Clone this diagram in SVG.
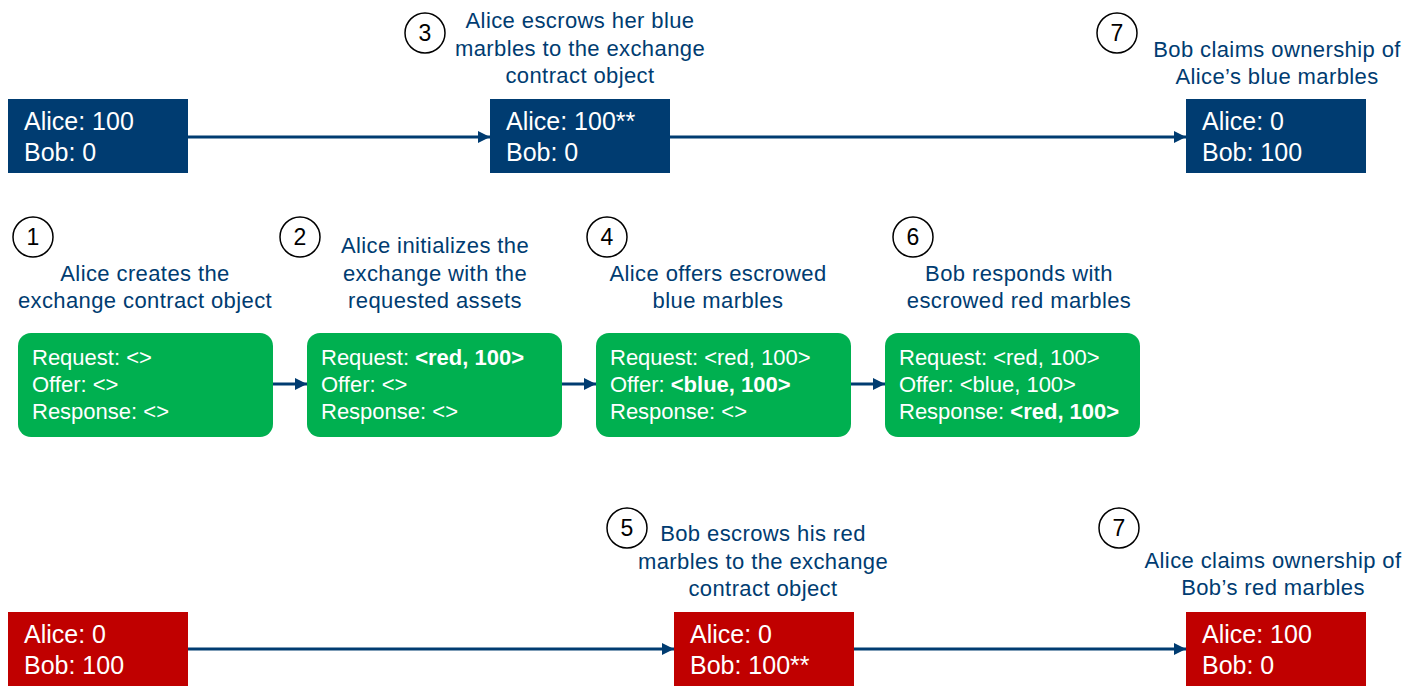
<svg xmlns="http://www.w3.org/2000/svg" width="1424" height="694" viewBox="0 0 1424 694">
<defs>
<marker id="ah" viewBox="0 0 10 10" refX="10" refY="5" markerWidth="4" markerHeight="4" orient="auto" markerUnits="strokeWidth">
<path d="M0,0 L10,5 L0,10 z" fill="#003C71"/>
</marker>
<style>
.blue{fill:#003C71}
.green{fill:#00B050}
.red{fill:#C00000}
.bt{font-family:"Liberation Sans",Arial,sans-serif;font-size:25px;fill:#fff}
.gt{font-family:"Liberation Sans",Arial,sans-serif;font-size:22px;fill:#fff}
.b{font-weight:bold}
.lab{font-family:"Liberation Sans",Arial,sans-serif;font-size:22px;letter-spacing:0.4px;fill:#003C71;text-anchor:middle}
.num{font-family:"Liberation Sans",Arial,sans-serif;font-size:23px;fill:#000;text-anchor:middle}
.circ{fill:#fff;stroke:#000;stroke-width:1.5}
.conn{stroke:#003C71;stroke-width:3;fill:none;marker-end:url(#ah)}
</style>
</defs>
<rect width="1424" height="694" fill="#fff"/>
<g id="connectors">
<line class="conn" x1="188" y1="137" x2="490" y2="137"/>
<line class="conn" x1="670" y1="137" x2="1186" y2="137"/>
<line class="conn" x1="273" y1="384" x2="307" y2="384"/>
<line class="conn" x1="562" y1="384" x2="596" y2="384"/>
<line class="conn" x1="851" y1="384" x2="885" y2="384"/>
<line class="conn" x1="188" y1="649" x2="674" y2="649"/>
<line class="conn" x1="854" y1="649" x2="1186" y2="649"/>
</g>
<g id="blue1"><rect class="blue" x="8" y="99" width="180" height="74"/><text class="bt" x="24" y="130">Alice: 100</text><text class="bt" x="24" y="161">Bob: 0</text></g>
<g id="blue2"><rect class="blue" x="490" y="99" width="180" height="74"/><text class="bt" x="506" y="130">Alice: 100**</text><text class="bt" x="506" y="161">Bob: 0</text></g>
<g id="blue3"><rect class="blue" x="1186" y="99" width="180" height="74"/><text class="bt" x="1202" y="130">Alice: 0</text><text class="bt" x="1202" y="161">Bob: 100</text></g>
<g id="green1"><rect class="green" x="18" y="333" width="255" height="104" rx="13"/><text class="gt" x="32" y="365">Request: &lt;&gt;</text><text class="gt" x="32" y="392">Offer: &lt;&gt;</text><text class="gt" x="32" y="419">Response: &lt;&gt;</text></g>
<g id="green2"><rect class="green" x="307" y="333" width="255" height="104" rx="13"/><text class="gt" x="321" y="365">Request: <tspan class="b">&lt;red, 100&gt;</tspan></text><text class="gt" x="321" y="392">Offer: &lt;&gt;</text><text class="gt" x="321" y="419">Response: &lt;&gt;</text></g>
<g id="green3"><rect class="green" x="596" y="333" width="255" height="104" rx="13"/><text class="gt" x="610" y="365">Request: &lt;red, 100&gt;</text><text class="gt" x="610" y="392">Offer: <tspan class="b">&lt;blue, 100&gt;</tspan></text><text class="gt" x="610" y="419">Response: &lt;&gt;</text></g>
<g id="green4"><rect class="green" x="885" y="333" width="255" height="104" rx="13"/><text class="gt" x="899" y="365">Request: &lt;red, 100&gt;</text><text class="gt" x="899" y="392">Offer: &lt;blue, 100&gt;</text><text class="gt" x="899" y="419">Response: <tspan class="b">&lt;red, 100&gt;</tspan></text></g>
<g id="red1"><rect class="red" x="8" y="612" width="180" height="74"/><text class="bt" x="24" y="643">Alice: 0</text><text class="bt" x="24" y="674">Bob: 100</text></g>
<g id="red2"><rect class="red" x="674" y="612" width="180" height="74"/><text class="bt" x="690" y="643">Alice: 0</text><text class="bt" x="690" y="674">Bob: 100**</text></g>
<g id="red3"><rect class="red" x="1186" y="612" width="180" height="74"/><text class="bt" x="1202" y="643">Alice: 100</text><text class="bt" x="1202" y="674">Bob: 0</text></g>
<g id="step3"><circle class="circ" cx="425" cy="33" r="20"/><text class="num" x="425" y="41">3</text><text class="lab" x="580" y="28">Alice escrows her blue</text><text class="lab" x="580" y="56">marbles to the exchange</text><text class="lab" x="580" y="83">contract object</text></g>
<g id="step7a"><circle class="circ" cx="1117" cy="33" r="20"/><text class="num" x="1117" y="41">7</text><text class="lab" x="1277" y="57">Bob claims ownership of</text><text class="lab" x="1277" y="84">Alice’s blue marbles</text></g>
<g id="step1"><circle class="circ" cx="33" cy="237" r="20"/><text class="num" x="33" y="245">1</text><text class="lab" x="145" y="281">Alice creates the</text><text class="lab" x="145" y="308">exchange contract object</text></g>
<g id="step2"><circle class="circ" cx="300" cy="237" r="20"/><text class="num" x="300" y="245">2</text><text class="lab" x="435" y="253">Alice initializes the</text><text class="lab" x="435" y="281">exchange with the</text><text class="lab" x="435" y="308">requested assets</text></g>
<g id="step4"><circle class="circ" cx="607" cy="237" r="20"/><text class="num" x="607" y="245">4</text><text class="lab" x="718" y="281">Alice offers escrowed</text><text class="lab" x="718" y="308">blue marbles</text></g>
<g id="step6"><circle class="circ" cx="913" cy="237" r="20"/><text class="num" x="913" y="245">6</text><text class="lab" x="1019" y="281">Bob responds with</text><text class="lab" x="1019" y="308">escrowed red marbles</text></g>
<g id="step5"><circle class="circ" cx="627" cy="528" r="20"/><text class="num" x="627" y="536">5</text><text class="lab" x="763" y="541">Bob escrows his red</text><text class="lab" x="763" y="569">marbles to the exchange</text><text class="lab" x="763" y="596">contract object</text></g>
<g id="step7b"><circle class="circ" cx="1119" cy="528" r="20"/><text class="num" x="1119" y="536">7</text><text class="lab" x="1273" y="568">Alice claims ownership of</text><text class="lab" x="1273" y="595">Bob’s red marbles</text></g>
</svg>
